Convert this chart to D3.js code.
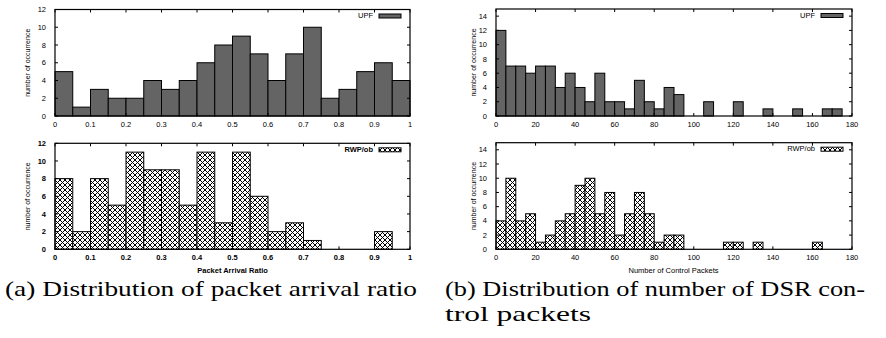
<!DOCTYPE html>
<html>
<head>
<meta charset="utf-8">
<script src="https://cdn.jsdelivr.net/npm/d3@7"></script>
<style>
	body { margin: 0; background: white; }
	svg { display: block; }
</style>
</head>
<body>
<svg id="chart" width="886" height="338"></svg>
<script>

// bins for (a): lower edge of each 0.05 bin
let ratioBins = [0, 0.05, 0.1, 0.15, 0.2, 0.25, 0.3, 0.35, 0.4, 0.45, 0.5, 0.55, 0.6, 0.65, 0.7, 0.75, 0.8, 0.85, 0.9, 0.95];
let ratioUPF = [5, 1, 3, 2, 2, 4, 3, 4, 6, 8, 9, 7, 4, 7, 10, 2, 3, 5, 6, 4];
let ratioRWP = [8, 2, 8, 5, 11, 9, 9, 5, 11, 3, 11, 6, 2, 3, 1, 0, 0, 0, 2, 0];
let ratioTicks = [0, 0.1, 0.2, 0.3, 0.4, 0.5, 0.6, 0.7, 0.8, 0.9, 1];

// bins for (b): lower edge of each 5-packet bin
let packetBins = [0, 5, 10, 15, 20, 25, 30, 35, 40, 45, 50, 55, 60, 65, 70, 75, 80, 85, 90, 95,
	100, 105, 110, 115, 120, 125, 130, 135, 140, 145, 150, 155, 160, 165, 170, 175];
let packetUPF = [12, 7, 7, 6, 7, 7, 4, 6, 4, 2, 6, 2, 2, 1, 5, 2, 1, 4, 3, 0,
	0, 2, 0, 0, 2, 0, 0, 1, 0, 0, 1, 0, 0, 1, 1, 0];
let packetRWP = [4, 10, 4, 5, 1, 2, 4, 5, 9, 10, 5, 8, 2, 5, 8, 5, 1, 2, 2, 0,
	0, 0, 0, 1, 1, 0, 1, 0, 0, 0, 0, 0, 1, 0, 0, 0];
let packetTicks = [0, 20, 40, 60, 80, 100, 120, 140, 160, 180];

let svg = d3.select('#chart');

// gnuplot-like crosshatch fill
let defs = svg.append('defs');
let pat = defs.append('pattern')
	.attr('id', 'xhatch')
	.attr('patternUnits', 'userSpaceOnUse')
	.attr('width', 5)
	.attr('height', 5);
pat.append('rect').attr('width', 5).attr('height', 5).attr('fill', 'white');
pat.append('path')
	.attr('d', 'M-1,-1L6,6M-1,6L6,-1M4,-1L6,1M-1,4L1,6M1,-1L-1,1M6,4L4,6')
	.attr('stroke', 'black')
	.attr('stroke-width', 1);

const FONT = '"Liberation Sans", Arial, sans-serif';

function drawPanel(opt) {
	let g = svg.append('g');
	let x = d3.scaleLinear().domain(opt.xDomain).range([opt.left, opt.right]);
	let y = d3.scaleLinear().domain(opt.yDomain).range([opt.bottom, opt.top]);

	// bars
	g.selectAll('rect.bar')
		.data(opt.bins.map((b, i) => ({x0: b, x1: b + opt.binWidth, v: opt.values[i]})).filter(d => d.v > 0))
		.join('rect')
		.attr('class', 'bar')
		.attr('x', d => x(d.x0))
		.attr('y', d => y(d.v))
		.attr('width', d => x(d.x1) - x(d.x0))
		.attr('height', d => y(0) - y(d.v))
		.attr('fill', opt.fill)
		.attr('stroke', 'black')
		.attr('stroke-width', 1);

	// inward ticks on all four sides (gnuplot mirror style)
	let tl = 3;
	let ticks = g.append('g').attr('stroke', 'black').attr('stroke-width', 1);
	opt.xTicks.forEach(t => {
		ticks.append('line').attr('x1', x(t)).attr('x2', x(t)).attr('y1', opt.bottom).attr('y2', opt.bottom - tl);
		ticks.append('line').attr('x1', x(t)).attr('x2', x(t)).attr('y1', opt.top).attr('y2', opt.top + tl);
	});
	opt.yTicks.forEach(t => {
		ticks.append('line').attr('x1', opt.left).attr('x2', opt.left + tl).attr('y1', y(t)).attr('y2', y(t));
		ticks.append('line').attr('x1', opt.right).attr('x2', opt.right - tl).attr('y1', y(t)).attr('y2', y(t));
	});

	// frame
	g.append('rect')
		.attr('x', opt.left).attr('y', opt.top)
		.attr('width', opt.right - opt.left).attr('height', opt.bottom - opt.top)
		.attr('fill', 'none').attr('stroke', 'black').attr('stroke-width', 1.2);

	// tick labels
	g.selectAll('text.xt').data(opt.xTicks).join('text')
		.attr('x', d => x(d)).attr('y', opt.bottom + 11)
		.attr('text-anchor', 'middle')
		.attr('font-family', FONT).attr('font-size', 7.5)
		.attr('font-weight', opt.bold ? 'bold' : 'normal')
		.text(d => d);
	g.selectAll('text.yt').data(opt.yTicks).join('text')
		.attr('x', opt.left - 9).attr('y', d => y(d) + 2.6)
		.attr('text-anchor', 'end')
		.attr('font-family', FONT).attr('font-size', 7.5)
		.attr('font-weight', opt.bold ? 'bold' : 'normal')
		.text(d => d);

	// y title
	g.append('text')
		.attr('transform', `translate(${opt.yTitleX},${(opt.top + opt.bottom) / 2}) rotate(-90)`)
		.attr('text-anchor', 'middle')
		.attr('font-family', FONT).attr('font-size', 7)
		.text('number of occurrence');

	// legend
	g.append('text')
		.attr('x', opt.right - 37).attr('y', opt.top + 8.5)
		.attr('text-anchor', 'end')
		.attr('font-family', FONT).attr('font-size', 7.5)
		.attr('font-weight', opt.bold ? 'bold' : 'normal')
		.text(opt.label);
	g.append('rect')
		.attr('x', opt.right - 31).attr('y', opt.top + 4.5)
		.attr('width', 22).attr('height', 4)
		.attr('fill', opt.fill).attr('stroke', 'black').attr('stroke-width', 1);
}

let panels = [
	{bins: ratioBins, values: ratioUPF, binWidth: 0.05, xDomain: [0, 1], yDomain: [0, 12],
		xTicks: ratioTicks, yTicks: [0, 2, 4, 6, 8, 10, 12], left: 55, right: 410, top: 9.5, bottom: 116,
		fill: '#646464', label: 'UPF', yTitleX: 30, bold: false},
	{bins: ratioBins, values: ratioRWP, binWidth: 0.05, xDomain: [0, 1], yDomain: [0, 12],
		xTicks: ratioTicks, yTicks: [0, 2, 4, 6, 8, 10, 12], left: 55, right: 410, top: 143.3, bottom: 249.3,
		fill: 'url(#xhatch)', label: 'RWP/ob', yTitleX: 30, bold: true},
	{bins: packetBins, values: packetUPF, binWidth: 5, xDomain: [0, 180], yDomain: [0, 15],
		xTicks: packetTicks, yTicks: [0, 2, 4, 6, 8, 10, 12, 14], left: 496, right: 852, top: 9, bottom: 116,
		fill: '#646464', label: 'UPF', yTitleX: 476, bold: false},
	{bins: packetBins, values: packetRWP, binWidth: 5, xDomain: [0, 180], yDomain: [0, 15],
		xTicks: packetTicks, yTicks: [0, 2, 4, 6, 8, 10, 12, 14], left: 496, right: 852, top: 142.7, bottom: 249.3,
		fill: 'url(#xhatch)', label: 'RWP/ob', yTitleX: 476, bold: false}
];
panels.forEach(drawPanel);

// x axis titles
svg.append('text')
	.attr('x', 232.5).attr('y', 272.5)
	.attr('text-anchor', 'middle')
	.attr('font-family', FONT).attr('font-size', 7.5).attr('font-weight', 'bold')
	.text('Packet Arrival Ratio');
svg.append('text')
	.attr('x', 673.5).attr('y', 272.5)
	.attr('text-anchor', 'middle')
	.attr('font-family', FONT).attr('font-size', 7.5)
	.text('Number of Control Packets');

// captions
const SERIF = '"Liberation Serif", "DejaVu Serif", serif';
function caption(txt, x, y, len) {
	svg.append('text')
		.attr('x', x).attr('y', y)
		.attr('font-family', SERIF).attr('font-size', 22)
		.attr('textLength', len).attr('lengthAdjust', 'spacingAndGlyphs')
		.text(txt);
}
caption('(a) Distribution of packet arrival ratio', 5, 296, 412);
caption('(b) Distribution of number of DSR con-', 445, 296, 420);
caption('trol packets', 445, 321, 146);

</script>
</body>
</html>
